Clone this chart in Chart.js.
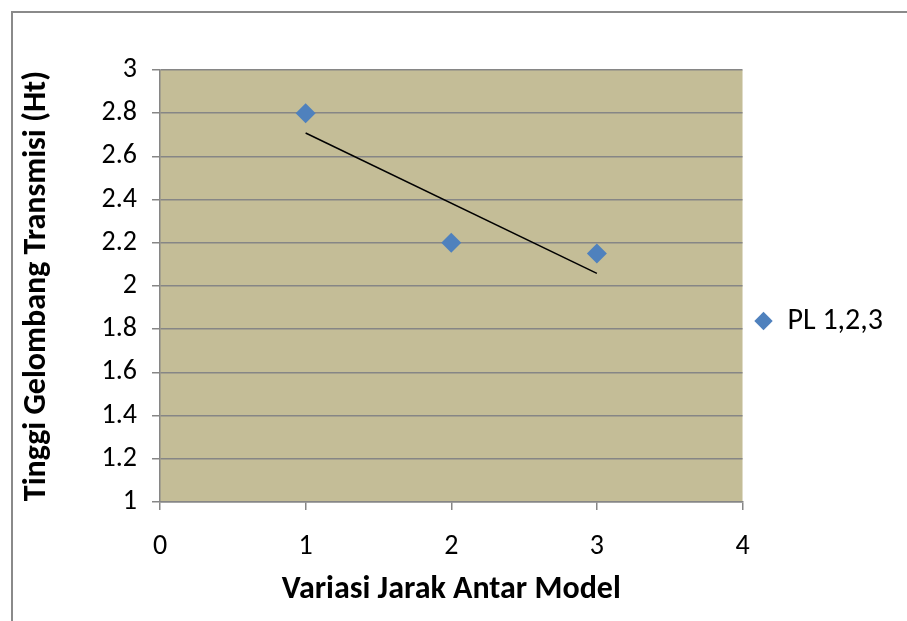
<!DOCTYPE html>
<html>
<head>
<meta charset="utf-8">
<script src="https://cdn.jsdelivr.net/npm/chart.js@4"></script>
<style>
html,body{margin:0;padding:0;background:#fff;}
#wrap{width:907px;height:621px;position:relative;}
</style>
</head>
<body>
<div id="wrap"><canvas id="c" width="907" height="621"></canvas></div>
<script>
const seriesName = 'PL 1,2,3';
const xValues = [1, 2, 3];
const yValues = [2.8, 2.2, 2.15];
const xTicks = [0, 1, 2, 3, 4];
const yTicks = [1, 1.2, 1.4, 1.6, 1.8, 2, 2.2, 2.4, 2.6, 2.8, 3];
const xTitle = 'Variasi Jarak Antar Model';
const yTitle = 'Tinggi Gelombang Transmisi (Ht)';

// linear trendline (least squares) from the data
const n = xValues.length;
const mx = xValues.reduce((a,b)=>a+b,0)/n;
const my = yValues.reduce((a,b)=>a+b,0)/n;
let sxy=0, sxx=0;
for (let i=0;i<n;i++){ sxy+=(xValues[i]-mx)*(yValues[i]-my); sxx+=(xValues[i]-mx)**2; }
const slope = sxy/sxx, icpt = my - slope*mx;
const xmin = Math.min(...xValues), xmax = Math.max(...xValues);
const trend = [{x:xmin,y:icpt+slope*xmin},{x:xmax,y:icpt+slope*xmax}];

const FONT = 'Carlito, Lato, "Open Sans", sans-serif';
const GRID = '#868686';

const bgPlugin = {
  id:'bg',
  beforeDraw(chart){
    const {ctx, chartArea:a} = chart;
    ctx.save();
    ctx.fillStyle = '#fff';
    ctx.fillRect(0,0,chart.width,chart.height);
    ctx.strokeStyle = '#8a8a8a';
    ctx.lineWidth = 2;
    ctx.strokeRect(12, 12, 1000, 1000);
    ctx.fillStyle = '#C4BD97';
    ctx.fillRect(a.left, a.top, a.right-a.left, a.bottom-a.top);
    ctx.restore();
  }
};

new Chart(document.getElementById('c'), {
  type:'scatter',
  data:{
    datasets:[
      {label:seriesName, data:xValues.map((x,i)=>({x, y:yValues[i]})),
       pointStyle:'rectRot', pointRadius:10, pointHoverRadius:10,
       backgroundColor:'#4F81BD', borderColor:'#4F81BD', borderWidth:0, order:1},
      {label:'trend', type:'line', data:trend, showLine:true, pointRadius:0,
       borderColor:'#000', borderWidth:1.5, fill:false, order:2}
    ]
  },
  plugins:[bgPlugin],
  options:{
    responsive:false, animation:false, devicePixelRatio:1,
    layout:{padding:{left:12, top:70, right:14, bottom:0}},
    plugins:{
      tooltip:{enabled:false},
      legend:{
        position:'right', align:'start',
        title:{display:true, text:' ', font:{size:10}, padding:{top:106,bottom:106}},
        labels:{
          filter:(item)=>item.text!=='trend',
          usePointStyle:true, pointStyle:'rectRot', boxWidth:18, boxHeight:13,
          padding:12, color:'#000', font:{family:FONT, size:30}
        }
      }
    },
    scales:{
      x:{
        type:'linear', min:0, max:4,
        afterBuildTicks(s){ s.ticks = xTicks.map(v=>({value:v})); },
        afterFit(s){ s.height = 119; },
        grid:{drawOnChartArea:false, drawTicks:true, tickLength:8, color:GRID, lineWidth:1.5},
        border:{color:GRID, width:1.5},
        ticks:{color:'#000', font:{family:FONT, size:28}, padding:20},
        title:{display:true, text:xTitle, color:'#000', font:{family:FONT, size:32, weight:'bold'}, padding:{top:0,bottom:12}}
      },
      y:{
        type:'linear', min:1, max:3,
        afterBuildTicks(s){ s.ticks = yTicks.map(v=>({value:v})); },
        afterFit(s){ s.width = 148; },
        grid:{drawOnChartArea:true, drawTicks:true, tickLength:8, color:GRID, lineWidth:1.5},
        border:{color:GRID, width:1.5},
        ticks:{color:'#000', font:{family:FONT, size:28}, padding:15, callback:v=>String(v)},
        title:{display:true, text:yTitle, color:'#000', font:{family:FONT, size:32, weight:'bold'}, padding:{top:6,bottom:0}}
      }
    }
  }
});
</script>
</body>
</html>
